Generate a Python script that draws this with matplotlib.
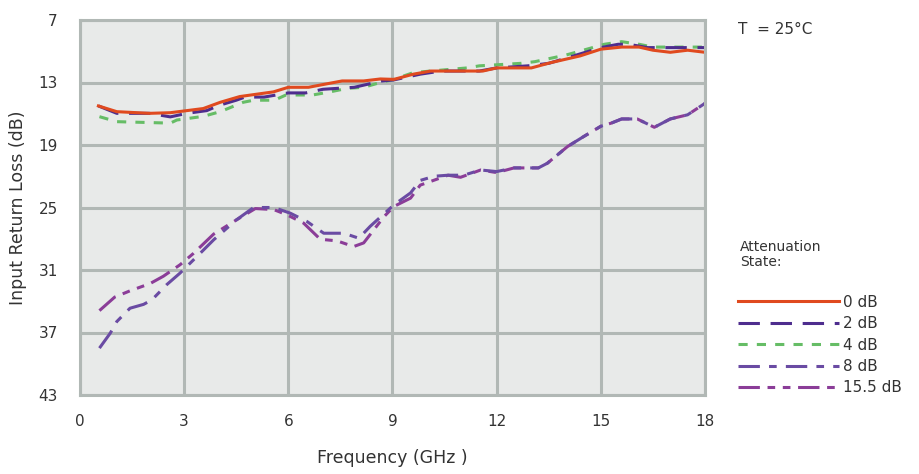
import matplotlib
matplotlib.use("Agg")
import matplotlib.pyplot as plt

# frequency (GHz) / input return loss (dB) for each attenuation state
freq_0 = [0.53, 1.06, 2.0, 2.6, 3.55, 4.04, 4.6, 5.57, 6.0, 6.58, 7.55, 8.17, 8.65, 9.04, 9.6,
          10.1, 11.6, 12.0, 13.0, 13.55, 14.4, 15.0, 15.6, 16.1, 16.5, 17.0, 17.5, 18.0]
rl_0 = [15.25, 15.8, 15.96, 15.9, 15.5, 14.9, 14.35, 13.9, 13.46, 13.46, 12.85, 12.85, 12.66, 12.7, 12.2,
        11.9, 11.9, 11.6, 11.6, 11.1, 10.45, 9.8, 9.6, 9.6, 9.9, 10.1, 9.9, 10.1]

freq_2 = [0.53, 1.06, 2.0, 2.6, 3.08, 3.65, 4.0, 4.5, 4.75, 5.3, 6.0, 6.5, 7.0, 7.9, 8.7, 9.04,
          9.8, 10.4, 11.5, 12.0, 12.9, 13.5, 14.3, 15.0, 15.5, 15.8, 16.35, 18.0]
rl_2 = [15.25, 15.96, 15.96, 16.3, 15.96, 15.7, 15.2, 14.7, 14.4, 14.4, 14.0, 14.0, 13.65, 13.46, 12.85, 12.75,
        12.2, 11.9, 11.9, 11.6, 11.4, 11.16, 10.36, 9.65, 9.33, 9.33, 9.65, 9.65]

freq_4 = [0.56, 1.06, 2.6, 2.79, 3.55, 4.04, 4.7, 5.0, 5.6, 5.93, 6.7, 7.2, 7.7, 8.17, 8.65, 9.04,
          9.6, 10.1, 11.15, 11.5, 12.7, 13.1, 14.0, 14.6, 15.1, 15.6, 16.1, 16.5, 18.0]
rl_4 = [16.28, 16.76, 16.9, 16.6, 16.25, 15.8, 14.9, 14.7, 14.7, 14.2, 14.2, 13.9, 13.56, 13.46, 13.0, 12.7,
        12.05, 11.9, 11.6, 11.4, 11.16, 11.0, 10.36, 9.8, 9.33, 9.08, 9.33, 9.6, 9.6]

freq_8 = [0.56, 0.87, 1.06, 1.44, 1.83, 2.07, 2.5, 2.88, 3.46, 3.85, 4.5, 5.0, 5.58, 6.06, 6.54, 7.02,
          7.6, 8.03, 8.36, 9.04, 9.52, 9.8, 10.2, 10.6, 11.05, 11.54, 12.0, 12.5, 13.2, 13.46, 14.04,
          14.5, 15.0, 15.3, 15.6, 16.05, 16.54, 17.0, 17.5, 18.0]
rl_8 = [38.5, 37.07, 35.95, 34.67, 34.3, 33.87, 32.4, 31.3, 29.4, 28.1, 26.2, 25.0, 25.0, 25.55, 26.35, 27.47,
        27.47, 27.95, 26.8, 24.75, 23.6, 22.4, 22.0, 21.9, 21.9, 21.4, 21.55, 21.2, 21.2, 20.75, 19.15,
        18.2, 17.2, 16.9, 16.5, 16.5, 17.3, 16.5, 16.1, 15.0]

freq_15 = [0.56, 1.0, 1.44, 2.02, 2.4, 2.88, 3.27, 3.85, 4.5, 5.05, 5.58, 5.96, 6.44, 6.92, 7.4, 7.88,
           8.17, 8.75, 9.04, 9.52, 9.8, 10.6, 10.96, 11.54, 12.0, 12.5, 13.2, 13.46, 14.04, 14.5, 15.0,
           15.3, 15.6, 16.05, 16.54, 17.0, 17.5, 18.0]
rl_15 = [34.9, 33.6, 33.0, 32.3, 31.6, 30.5, 29.4, 27.55, 26.2, 25.1, 25.2, 25.7, 26.5, 28.05, 28.2, 28.75,
         28.4, 25.9, 24.9, 24.1, 22.85, 21.9, 22.1, 21.4, 21.65, 21.2, 21.2, 20.75, 19.15, 18.2, 17.2,
         16.9, 16.5, 16.5, 17.3, 16.5, 16.1, 15.0]

x_ticks = [0, 3, 6, 9, 12, 15, 18]
y_ticks = [7, 13, 19, 25, 31, 37, 43]

grid_col = "#b1b8b5"
txt_col = "#333333"

fig = plt.figure(figsize=(9.2, 4.74), dpi=100)
ax = fig.add_axes([80 / 920, 1 - 395 / 474, 625 / 920, 375 / 474])
ax.set_facecolor("#e8eae9")

lw = 2.2
ax.plot(freq_15, rl_15, color="#8b3d98", lw=lw, dashes=(7, 2.5, 2.5, 2.5, 2.5, 2.5), label="15.5 dB")
ax.plot(freq_8, rl_8, color="#6a4ba3", lw=lw, dashes=(7, 3, 2.5, 3), label="8 dB")
ax.plot(freq_4, rl_4, color="#66bd66", lw=lw, dashes=(3, 3), label="4 dB")
ax.plot(freq_2, rl_2, color="#4e2d8e", lw=lw, dashes=(7, 3.5), label="2 dB")
ax.plot(freq_0, rl_0, color="#e04a1f", lw=lw, label="0 dB")

ax.set_xlim(0, 18)
ax.set_ylim(43, 7)
ax.set_xticks(x_ticks)
ax.set_yticks(y_ticks)
ax.grid(True, color=grid_col, lw=2.2)
ax.set_axisbelow(True)
for s in ax.spines.values():
    s.set_color(grid_col)
    s.set_linewidth(2.2)
ax.tick_params(length=0, labelsize=11, colors=txt_col, pad=14)
ax.tick_params(axis="y", pad=16)

ax.set_xlabel("Frequency (GHz )", fontsize=12.5, color=txt_col, labelpad=14)
ax.set_ylabel("Input Return Loss (dB)", fontsize=12.5, color=txt_col, labelpad=8)

fig.text(738 / 920, 1 - 30 / 474, "T  = 25°C", fontsize=11, color=txt_col, va="center")
fig.text(740 / 920, 1 - 240 / 474, "Attenuation\nState:", fontsize=10, color=txt_col,
         va="top", linespacing=1.1)

h, l = ax.get_legend_handles_labels()
order = [4, 3, 2, 1, 0]
fig.legend([h[i] for i in order], [l[i] for i in order], loc="upper left",
           bbox_to_anchor=(724 / 920, 1 - 281 / 474), frameon=False, fontsize=11,
           handlelength=6.6, handletextpad=0.3, labelspacing=0.42, labelcolor=txt_col)

fig.savefig("out.png", dpi=100)
